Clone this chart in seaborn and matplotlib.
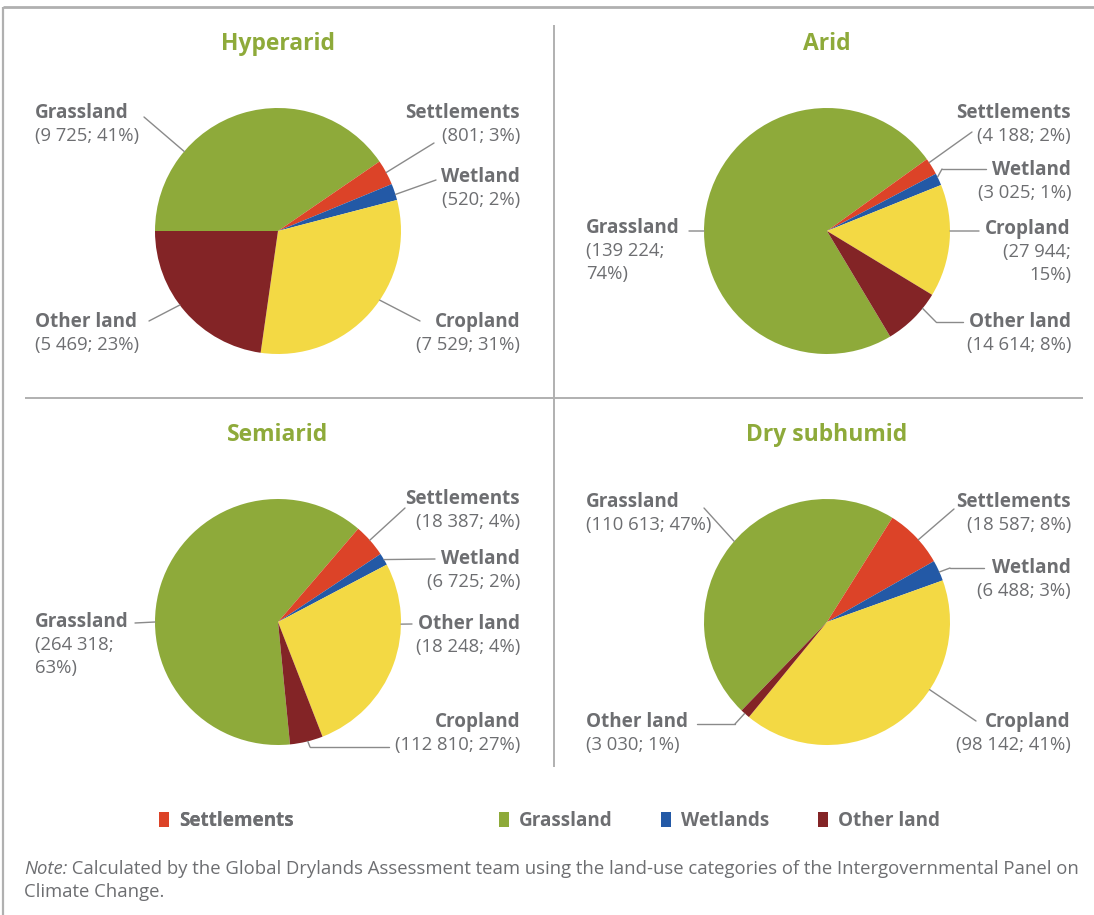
import matplotlib
matplotlib.use("Agg")
import matplotlib.pyplot as plt
import seaborn as sns
from matplotlib.patches import Patch, ConnectionPatch
import numpy as np

# ---------------- data ----------------
categories = ["Grassland", "Settlements", "Wetland", "Cropland", "Other land"]
cat_colors = ["#8eaa3a", "#dc4328", "#2359a6", "#f3d944", "#832426"]

hyperarid_values = [9725, 801, 520, 7529, 5469]
hyperarid_pct = [41, 3, 2, 31, 23]
arid_values = [139224, 4188, 3025, 27944, 14614]
arid_pct = [74, 2, 1, 15, 8]
semiarid_values = [264318, 18387, 6725, 112810, 18248]
semiarid_pct = [63, 4, 2, 27, 4]
drysub_values = [110613, 18587, 6488, 98142, 3030]
drysub_pct = [47, 8, 3, 41, 1]

titles = ["Hyperarid", "Arid", "Semiarid", "Dry subhumid"]
legend_labels = ["Settlements", "Grassland", "Wetlands", "Other land"]
legend_colors = ["#dc4328", "#8eaa3a", "#2359a6", "#832426"]
note_italic = "Note:"
note_line1 = " Calculated by the Global Drylands Assessment team using the land-use categories of the Intergovernmental Panel on"
note_line2 = "Climate Change."

# ---------------- style ----------------
sns.set_theme(style="white")
plt.rcParams["font.family"] = ["Open Sans", "DejaVu Sans"]
TXT = "#6d6e71"
GREEN = "#8eaa3a"
LINE = "#8a8a8a"
FRAME = "#b0b0b0"

W, H = 1094, 915
fig = plt.figure(figsize=(W / 100, H / 100), dpi=100)
fig.patch.set_facecolor("white")

bg = fig.add_axes([0, 0, 1, 1])
bg.set_xlim(0, W)
bg.set_ylim(H, 0)
bg.axis("off")

# frame and dividers
bg.plot([3, W], [7, 7], color=FRAME, lw=2.0, solid_capstyle="butt")
bg.plot([3, 3], [7, H], color=FRAME, lw=1.6, solid_capstyle="butt")
bg.plot([554, 554], [25, 767], color=FRAME, lw=1.4, solid_capstyle="butt")
bg.plot([25, 1083], [398, 398], color=FRAME, lw=1.4, solid_capstyle="butt")


def fmt(v, p, wrap=False):
    num = f"{v:,}".replace(",", " ")
    sep = "\n" if wrap else " "
    return f"({num};{sep}{p}%)"


R = 123
panels = [
    dict(title=titles[0], values=hyperarid_values, pct=hyperarid_pct, c=(278, 231), start=180,
         labels={
             "Grassland": dict(x=35, y=113, ha="left", pts=[(144, 117)], ang=139.7),
             "Settlements": dict(x=520, y=113, ha="right", pts=[(434, 143)], ang=28.4),
             "Wetland": dict(x=520, y=177, ha="right", pts=[(436, 180)], ang=17.3),
             "Cropland": dict(x=520, y=322, ha="right", pts=[(420, 321)], ang=-34.2),
             "Other land": dict(x=35, y=322, ha="left", pts=[(149, 321)], ang=-143),
         }),
    dict(title=titles[1], values=arid_values, pct=arid_pct, c=(827, 231), start=-59.1,
         labels={
             "Grassland": dict(x=586, y=228, ha="left", pts=[(689, 231)], ang=180, wrap=True),
             "Settlements": dict(x=1071, y=113, ha="right", pts=[(972, 132)], ang=33.8),
             "Wetland": dict(x=1071, y=170, ha="right", pts=[(986, 169), (942, 169)], ang=26),
             "Cropland": dict(x=1071, y=229, ha="right", pts=[(979, 231)], ang=0, wrap=True),
             "Other land": dict(x=1071, y=322, ha="right", pts=[(963, 322), (936, 322)], ang=-39),
         }),
    dict(title=titles[2], values=semiarid_values, pct=semiarid_pct, c=(278, 622), start=-84.4,
         labels={
             "Grassland": dict(x=35, y=622, ha="left", pts=[(135, 623)], ang=180, wrap=True),
             "Settlements": dict(x=520, y=499, ha="right", pts=[(405, 508)], ang=41.7),
             "Wetland": dict(x=520, y=559, ha="right", pts=[(435, 559)], ang=30.5),
             "Other land": dict(x=520, y=624, ha="right", pts=[(412, 624)], ang=-1),
             "Cropland": dict(x=520, y=722, ha="right", pts=[(389, 747), (310, 747)], ang=-76),
         }),
    dict(title=titles[3], values=drysub_values, pct=drysub_pct, c=(827, 622), start=-134,
         labels={
             "Grassland": dict(x=586, y=502, ha="left", pts=[(704, 508)], ang=139),
             "Settlements": dict(x=1071, y=502, ha="right", pts=[(954, 509)], ang=42),
             "Wetland": dict(x=1071, y=568, ha="right", pts=[(984, 568), (950, 568)], ang=24),
             "Cropland": dict(x=1071, y=722, ha="right", pts=[(976, 721)], ang=-33.4),
             "Other land": dict(x=586, y=722, ha="left", pts=[(697, 724), (735, 724)], ang=-132),
         }),
]

NAME_FS = 13.6
VAL_FS = 13.3
LSP = 23

for p in panels:
    cx, cy = p["c"]
    ax = fig.add_axes([(cx - R) / W, (H - cy - R) / H, 2 * R / W, 2 * R / H])
    ax.pie(p["values"], colors=cat_colors, startangle=p["start"], counterclock=False,
           wedgeprops=dict(linewidth=0))
    ax.set_xlim(-1, 1)
    ax.set_ylim(-1, 1)
    ax.axis("off")
    bg.text(cx, 44 if cy < 400 else 435, p["title"], color=GREEN, fontsize=16.5,
            fontweight="bold", ha="center", va="center")
    for i, cat in enumerate(categories):
        spec = p["labels"][cat]
        bg.text(spec["x"], spec["y"], cat, color=TXT, fontsize=NAME_FS, fontweight="bold",
                ha=spec["ha"], va="center")
        val = fmt(p["values"][i], p["pct"][i], spec.get("wrap", False))
        for k, line in enumerate(val.split("\n")):
            bg.text(spec["x"], spec["y"] + LSP * (k + 1), line, color=TXT, fontsize=VAL_FS,
                    ha=spec["ha"], va="center")
        pts = spec["pts"]
        if len(pts) > 1:
            xs = [q[0] for q in pts]
            ys = [q[1] for q in pts]
            bg.plot(xs, ys, color=LINE, lw=1.0)
        a = np.deg2rad(spec["ang"])
        con = ConnectionPatch(xyA=pts[-1], coordsA=bg.transData,
                              xyB=(np.cos(a), np.sin(a)), coordsB=ax.transData,
                              color=LINE, lw=1.0)
        fig.add_artist(con)

# legend (two groups, Cropland slot left blank as in the original)
h1 = [Patch(facecolor=legend_colors[0], edgecolor="none")]
leg1 = fig.legend(h1, legend_labels[:1], loc="center left",
                  bbox_to_anchor=(142 / W, 1 - 821 / H), frameon=False,
                  handlelength=0.52, handleheight=0.9, handletextpad=0.55,
                  prop=dict(size=13.6, weight="bold"), labelcolor=TXT)
h2 = [Patch(facecolor=c, edgecolor="none") for c in legend_colors[1:]]
leg2 = fig.legend(h2, legend_labels[1:], loc="center left", ncol=3,
                  bbox_to_anchor=(482 / W, 1 - 821 / H), frameon=False,
                  handlelength=0.52, handleheight=0.9, handletextpad=0.55,
                  columnspacing=2.55,
                  prop=dict(size=13.6, weight="bold"), labelcolor=TXT)
fig.add_artist(leg1)

# note
t_note = bg.text(24, 869, note_italic, color=TXT, fontsize=13.3, fontstyle="italic",
                 ha="left", va="center")
bg.annotate(note_line1, xy=(1, 0.5), xycoords=t_note, color=TXT, fontsize=13.3,
            ha="left", va="center")
bg.text(24, 892, note_line2, color=TXT, fontsize=13.3, ha="left", va="center")

fig.savefig("out.png", dpi=100, facecolor="white")
